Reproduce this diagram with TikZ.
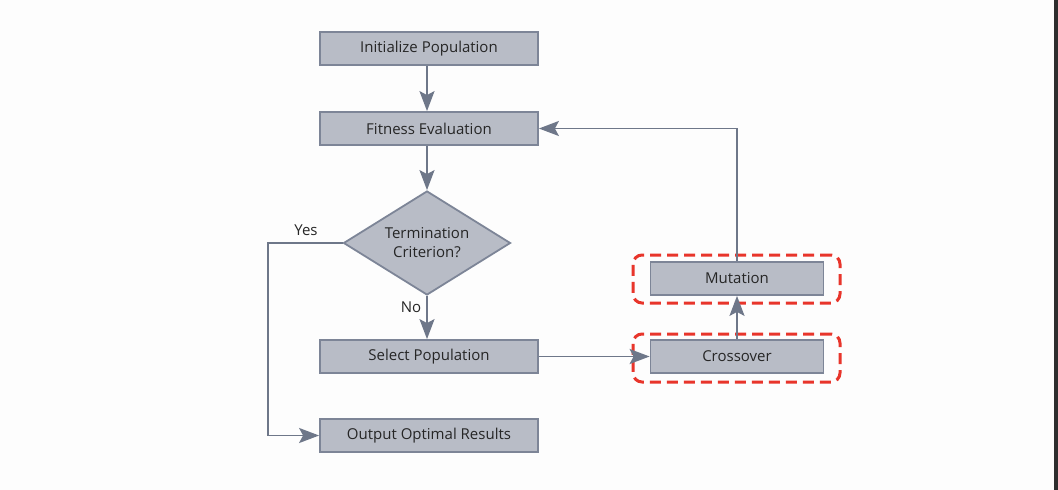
\documentclass[tikz,border=0pt]{standalone}
\usepackage{fontspec}
\setmainfont{Open Sans}
\usetikzlibrary{shapes.geometric,arrows.meta}
\definecolor{boxfill}{HTML}{B8BCC6}
\definecolor{boxline}{HTML}{7D8597}
\definecolor{arrowc}{HTML}{6E7789}
\definecolor{dashred}{HTML}{E8352B}
\definecolor{bg}{HTML}{FDFDFD}
\definecolor{strip}{HTML}{2E2E2E}
\tikzset{
  procbox/.style={draw=boxline, fill=boxfill, line width=1.8pt, minimum width=218pt, minimum height=33pt, inner sep=0pt, font=\fontsize{15}{19}\selectfont, text=black!85},
  smallbox/.style={procbox, minimum width=173pt},
  decisionbox/.style={diamond, draw=boxline, fill=boxfill, line width=1.8pt, minimum width=167pt, minimum height=104pt, aspect=1.6, inner sep=0pt, font=\fontsize{15}{19}\selectfont, text=black!85, align=center},
  flow/.style={draw=arrowc, line width=1.8pt, -{Stealth[length=20pt, width=15pt, inset=4pt]}},
  redframe/.style={draw=dashred, line width=3pt, dash pattern=on 11pt off 6pt, rounded corners=9pt},
  lbl/.style={font=\fontsize{15}{19}\selectfont, text=black!85, inner sep=0pt}
}
\begin{document}
\begin{tikzpicture}[x=1pt,y=-1pt]
\useasboundingbox (0,0) rectangle (1058,490);
\fill[bg] (0,0) rectangle (1058,490);
\fill[strip] (1054,0) rectangle (1058,490);
\node[procbox] (init) at (429,48.5) {Initialize Population};
\node[procbox] (fit) at (429,128.5) {Fitness Evaluation};
\node[decisionbox] (term) at (427,243) {Termination\\Criterion?};
\node[procbox] (sel) at (429,356.5) {Select Population};
\node[procbox] (out) at (429,435.5) {Output Optimal Results};
\node[smallbox] (mut) at (737,278.5) {Mutation};
\node[smallbox] (cro) at (737,356.5) {Crossover};
\node[redframe, minimum width=207pt, minimum height=48pt, inner sep=0pt] (mutframe) at (736.5,279) {};
\node[redframe, minimum width=207pt, minimum height=48pt, inner sep=0pt] (croframe) at (736.5,358) {};
\coordinate (c1) at (268,243);
\coordinate (c2) at (268,435.5);
\coordinate (c3) at (737,128.5);
\draw[flow] (init.south -| term.north) -- (fit.north -| term.north);
\draw[flow] (fit.south -| term.north) -- (term.north);
\draw[flow] (term.south) -- (sel.north -| term.south);
\draw[flow] (term.west) -- (c1) -- (c2) -- (out.west);
\draw[flow] (sel.east) -- (cro.west);
\draw[flow] (cro.north) -- (mut.south);
\draw[flow] (mut.north) -- (c3) -- (fit.east);
\node[lbl] (yes) at (306,230) {Yes};
\node[lbl] (no) at (411,307) {No};
\end{tikzpicture}
\end{document}
